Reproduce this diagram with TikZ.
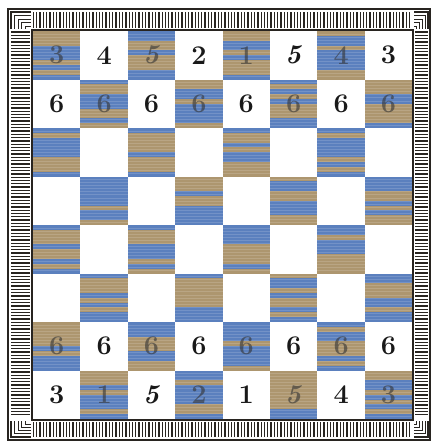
\documentclass[tikz,border=0pt]{standalone}
\usepackage{amsmath}
\definecolor{boardblue}{RGB}{84,128,204}
\definecolor{boardtan}{RGB}{184,156,108}
\definecolor{frameink}{RGB}{40,36,32}
\newcommand{\sqdigit}[1]{\ifnum#1=5 \textit{#1}\else #1\fi}

\begin{document}
\begin{tikzpicture}[x=1pt, y=-1pt,
    digit/.style={font=\fontsize{27}{27}\selectfont\bfseries, inner sep=0pt, text=black!90},
    faintdigit/.style={digit, text=black!80, opacity=0.6},
    hatch/.style={draw=frameink, line width=1.3pt},
    rim/.style={draw=frameink, line width=2pt}]
        \useasboundingbox (0,0) rectangle (431,442);
        \pgfmathsetseed{1887}

        % Draw squares
        \foreach \r in {0,...,7}
          \foreach \c in {0,...,7} {
            \pgfmathsetmacro{\xa}{33+\c*47.4}
            \pgfmathsetmacro{\ya}{31+\r*48.5}
            \pgfmathparse{int(mod(\r+\c,2))}
            \ifnum\pgfmathresult=0
              \fill[boardtan] (\xa,\ya) rectangle ++(47.4,48.5);
              \foreach \k in {0,...,9} {
                \pgfmathparse{rnd<0.5 ? 1 : 0}
                \ifdim\pgfmathresult pt>0.5pt
                  \fill[boardblue] (\xa,\ya+\k*4.85) rectangle ++(47.4,4.85);
                \fi
              }
              \fill[gray, opacity=0.18] (\xa,\ya) rectangle ++(47.4,48.5);
              \foreach \k in {1,...,15}
                \draw[white, opacity=0.15, line width=0.4pt] (\xa,\ya+\k*3.03) -- ++(47.4,0);
            \else
              \fill[white] (\xa,\ya) rectangle ++(47.4,48.5);
            \fi
          }

        % Draw frame
        \draw[rim] (8,9) rectangle (430,440);
        \draw[rim] (32,30) rectangle (413,420);
        \foreach \x in {33.5,36.8,...,411} {
            \draw[hatch] (\x,12) -- (\x,28);
            \draw[hatch] (\x,422) -- (\x,437);
        }
        \foreach \y in {32,35.3,...,418} {
            \draw[hatch] (11,\y) -- (30,\y);
            \draw[hatch] (415,\y) -- (428,\y);
        }
        \foreach \k in {0,...,4} {
            \draw[hatch] (31,12+\k*3.6) -- (11+\k*3.6,12+\k*3.6) -- (11+\k*3.6,29);
            \draw[hatch] (414,12+\k*3.6) -- (428-\k*2.8,12+\k*3.6) -- (428-\k*2.8,29);
            \draw[hatch] (31,437-\k*3.2) -- (11+\k*3.6,437-\k*3.2) -- (11+\k*3.6,421);
            \draw[hatch] (414,437-\k*3.2) -- (428-\k*2.8,437-\k*3.2) -- (428-\k*2.8,421);
        }

        % Numbers
        \foreach \d/\e [count=\c from 0] in {3/3,4/1,5/5,2/2,1/1,5/5,4/4,3/3} {
            \pgfmathsetmacro{\xm}{56.7+\c*47.4}
            \pgfmathparse{int(mod(\c,2))}
            \ifnum\pgfmathresult=0
              \node[faintdigit] (top-\c) at (\xm,55.25) {\sqdigit{\d}};
              \node[digit] (pawn-\c) at (\xm,103.75) {6};
              \node[faintdigit] (low-\c) at (\xm,346.25) {6};
              \node[digit] (base-\c) at (\xm,394.75) {\sqdigit{\e}};
            \else
              \node[digit] (top-\c) at (\xm,55.25) {\sqdigit{\d}};
              \node[faintdigit] (pawn-\c) at (\xm,103.75) {6};
              \node[digit] (low-\c) at (\xm,346.25) {6};
              \node[faintdigit] (base-\c) at (\xm,394.75) {\sqdigit{\e}};
            \fi
        }
    \end{tikzpicture}
\end{document}
